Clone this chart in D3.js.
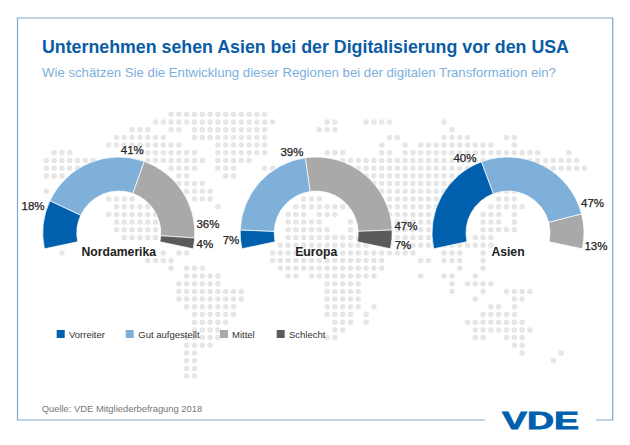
<!DOCTYPE html>
<html><head><meta charset="utf-8">
<script src="https://cdn.jsdelivr.net/npm/d3@7"></script>
<style>html,body{margin:0;padding:0;background:#fff}svg{display:block}text{font-family:"Liberation Sans",Arial,sans-serif}</style>
</head><body><svg id="c" width="630" height="445"></svg>
<script>
const categories = ["Vorreiter","Gut aufgestellt","Mittel","Schlecht"];
const colors = ["#0060ae","#7eb0da","#a9a9a9","#5a5a5a"];
const regions = ["Nordamerika","Europa","Asien"];
const valuesNordamerika = [18,41,36,4];
const valuesEuropa = [7,39,47,7];
const valuesAsien = [40,47,13,0];
const mapRows = [
"16-28","14-29 36-37 41-44 51","11-13 16-17 19-28 35-37 52","9-15 19-28 44-45 51-54 59-60",
"8-17 22-28 43 46 48-57 60","1-3 12-19 22-28 36-38 43-44 46-63 67","0-6 13-20 22-26 38-68","0-4 16-19 22-24 28-29 39-69",
"0-2 17-18 23-24 38-65","17-20 40-64","0 18-21 42-62","8-11 19-21 33-35 44-52 58-60","9-18 22 32-40 44-52 57-61",
"8-14 31-33 35-37 40 44-51 56-58 60","9-14 31-35 39-40 44-50 56-58 60","9-14 31-36 39 45-50 56-57 58-60","10-14 31-41 45-50 55-57",
"30-41 46-50 51-57","2 15 17-18 29-47 51-53 56","13-16 29-43 48-49 51-53 56","16 18-20 30-43 53 56","18-22 31-32 34-42 48 51-52 55",
"17-22 36-40 52 54-57","17-25 36-40 52 56 59-62","17-25 36-40 55 60-61","18-24 36-40 42 57-58 60","19-24 36-39 41 56-60",
"19-23 37-39 41 54-61","19-22 37-38 55-62","18-22 36-37 55-56 59-61","18-21 60-61","18-19 61 66","18-19 65","18-19","18-19"
];
const pctLabelNudges = [
 [[5.6,-16.5],[49,2],[12.3,41.5],[-5,-1.6]],
 [[6.5,-1.3],[44,-19.3],[30.9,63.2],[-4.9,3.7]],
 [[37.6,-30.7],[42,51.6],[-4,14.4]]
];
const allValues = [valuesNordamerika,valuesEuropa,valuesAsien];
const cxs = [118.8,316.2,508], cy = 233, rO = 76, rI = 42;
const span = 102*Math.PI/180;
const svg = d3.select("#c");

// dotted world map
const gx = d3.scaleLinear().domain([0,1]).range([46.3,54.1]);
const gy = d3.scaleLinear().domain([0,1]).range([114.3,122]);
const dots = [];
mapRows.forEach((row,r)=>row.split(" ").forEach(t=>{
  const [a,b] = t.split("-").map(Number);
  d3.range(a,(b===undefined?a:b)+1).forEach(c=>dots.push([c,r]));
}));
svg.append("g").selectAll("circle").data(dots).join("circle")
  .attr("cx",d=>gx(d[0])).attr("cy",d=>gy(d[1])).attr("r",2.75).attr("fill","#e6e6e6");

// frame
svg.append("path").attr("d","M485,420H17.5V18H612.7V420H596").attr("fill","none").attr("stroke","#7ea9cf").attr("stroke-width",1.2);

// titles
svg.append("text").attr("x",42).attr("y",53).attr("font-size",17.8).attr("font-weight","bold").attr("fill","#0a5ca6")
  .text("Unternehmen sehen Asien bei der Digitalisierung vor den USA");
svg.append("text").attr("x",42).attr("y",76.5).attr("font-size",13.2).attr("fill","#7dafdc")
  .text("Wie schätzen Sie die Entwicklung dieser Regionen bei der digitalen Transformation ein?");

// donuts
const pie = d3.pie().sort(null).startAngle(-span).endAngle(span);
const arc = d3.arc().innerRadius(rI).outerRadius(rO);
const labelArc = d3.arc().innerRadius(92).outerRadius(92);
regions.forEach((name,i)=>{
  const g = svg.append("g").attr("transform",`translate(${cxs[i]},${cy})`);
  const arcs = pie(allValues[i]).filter(d=>d.data>0);
  g.selectAll("path").data(arcs).join("path").attr("d",arc)
    .attr("fill",d=>colors[d.index]).attr("stroke","#fff").attr("stroke-width",0.7);
  g.selectAll("text.p").data(arcs).join("text").attr("class","p")
    .attr("transform",(d,j)=>{const c=labelArc.centroid(d),n=pctLabelNudges[i][j];return `translate(${c[0]+n[0]},${c[1]+n[1]})`;})
    .attr("text-anchor","middle").attr("dy","0.36em").attr("font-size",11.5)
    .attr("fill","#222").attr("stroke","#222").attr("stroke-width",0.25).text(d=>d.data+"%");
  g.append("text").attr("x",0).attr("y",23).attr("text-anchor","middle").attr("font-size",12.2)
    .attr("font-weight","bold").attr("fill","#222").text(name);
});

// legend
const legendSwatchX = [56.7,125.7,220,276.7], legendTextX = [69,138.3,232,289];
const lg = svg.append("g").selectAll("g").data(categories).join("g");
lg.append("rect").attr("x",(d,i)=>legendSwatchX[i]).attr("y",330).attr("width",8).attr("height",8).attr("fill",(d,i)=>colors[i]);
lg.append("text").attr("x",(d,i)=>legendTextX[i]).attr("y",337.5).attr("font-size",9.5).attr("fill","#333").text(d=>d);

// source & logo
svg.append("text").attr("x",41.7).attr("y",412).attr("font-size",9.4).attr("fill","#777").text("Quelle: VDE Mitgliederbefragung 2018");
svg.append("text").attr("x",502).attr("y",429).attr("font-size",24).attr("font-weight","bold").attr("fill","#0060ae")
  .attr("stroke","#0060ae").attr("stroke-width",0.8).attr("textLength",77).attr("lengthAdjust","spacingAndGlyphs").text("VDE");
</script></body></html>
